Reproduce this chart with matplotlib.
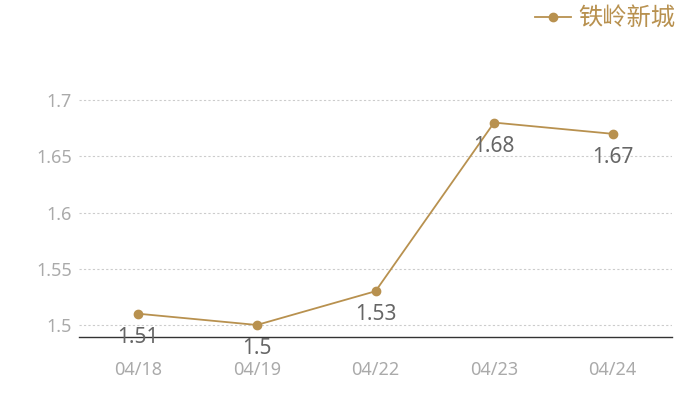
import matplotlib
matplotlib.use("Agg")
import matplotlib.pyplot as plt

plt.rcParams['font.family'] = ['Noto Sans', 'Noto Sans CJK SC', 'DejaVu Sans']

categories = ["04/18", "04/19", "04/22", "04/23", "04/24"]
values = [1.51, 1.50, 1.53, 1.68, 1.67]
series_name = "铁岭新城"
yticks = [1.5, 1.55, 1.6, 1.65, 1.7]

color = "#b8914f"

fig = plt.figure(figsize=(7, 4), dpi=100)
ax = fig.add_axes([79/700, 63/400, (672-79)/700, (337-45)/400])

x = list(range(len(categories)))
line, = ax.plot(x, values, color=color, lw=1.3, marker='o', markersize=6, label=series_name, zorder=3)

for xi, v in zip(x, values):
    ax.annotate(f"{v:g}", (xi, v), xytext=(0, -17), textcoords='offset points',
                ha='center', va='center', fontsize=15, color='#666666', zorder=4)

ax.set_xlim(-0.5, len(categories) - 0.5)
ax.set_ylim(1.4893, 1.749)
ax.set_xticks(x)
ax.set_xticklabels(categories)
ax.set_yticks(yticks)
ax.set_yticklabels([f"{t:g}" for t in yticks])
ax.tick_params(axis='both', length=0, labelsize=13, labelcolor='#aaaaaa')
ax.tick_params(axis='x', pad=17)
ax.tick_params(axis='y', pad=5)
ax.grid(axis='y', linestyle=(0, (2, 2)), color='#cccccc', lw=0.8)
ax.set_axisbelow(True)
for s in ['top', 'right', 'left']:
    ax.spines[s].set_visible(False)
ax.spines['bottom'].set_color('#333333')
ax.spines['bottom'].set_linewidth(1)

leg = fig.legend(handles=[line], loc='upper right', bbox_to_anchor=(678/700, 1 - 3/400),
                 frameon=False, handlelength=1.5, handletextpad=0.3,
                 borderaxespad=0.0, borderpad=0.1,
                 prop={'family': ['Noto Sans CJK SC', 'DejaVu Sans'], 'size': 17.5})
for t in leg.get_texts():
    t.set_color(color)

fig.savefig("out.png", dpi=100)
